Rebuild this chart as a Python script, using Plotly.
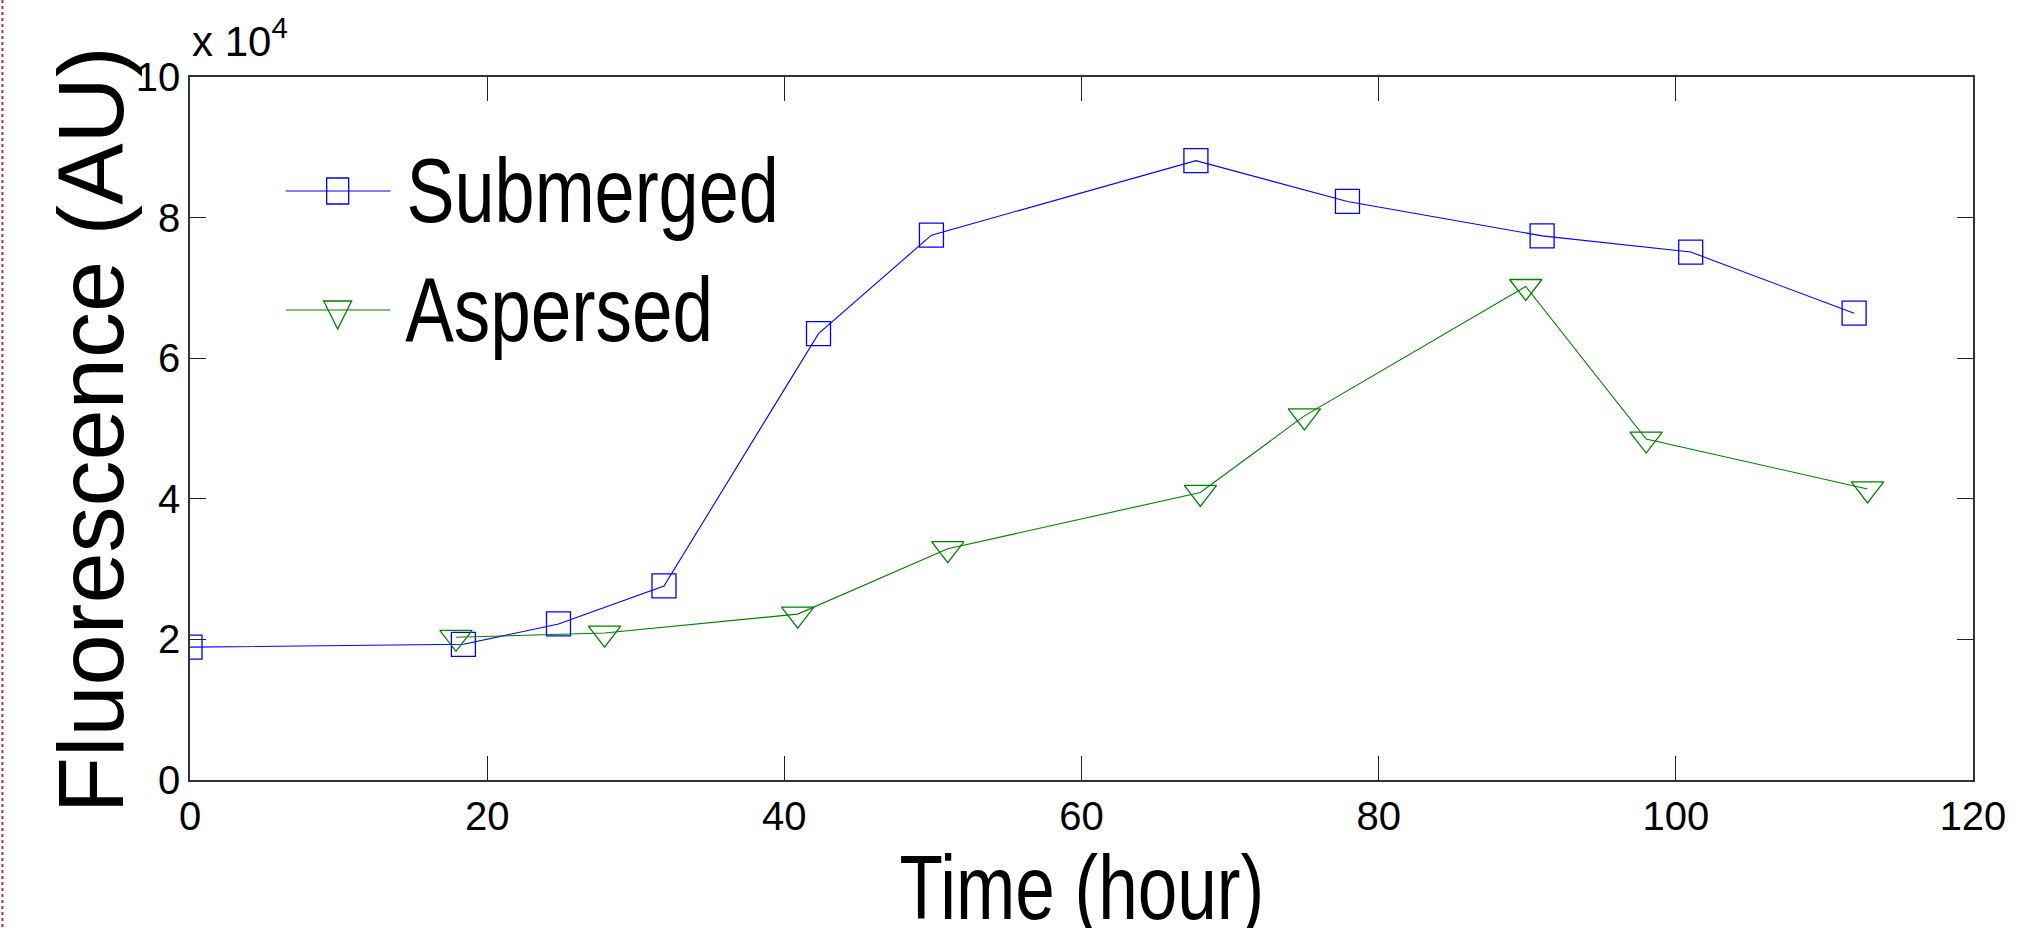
import plotly.graph_objects as go

# ---- data ----
hours_submerged = [0, 18.4, 24.8, 31.9, 42.3, 49.9, 67.7, 77.9, 91.0, 101.0, 112.0]
fluor_submerged = [18900, 19300, 22200, 27600, 63500, 77500, 88100, 82300, 77400, 75100, 66400]

hours_aspersed = [17.9, 27.9, 40.9, 51.0, 68.0, 75.0, 89.9, 98.0, 112.9]
fluor_aspersed = [20300, 20900, 23600, 32900, 40900, 51800, 70200, 48500, 41400]

x_ticks = [0, 20, 40, 60, 80, 100, 120]
y_ticks = [0, 20000, 40000, 60000, 80000, 100000]
y_tick_text = ["0", "2", "4", "6", "8", "10"]

series_names = ["Submerged", "Aspersed"]
x_title = "Time (hour)"
y_title = "Fluorescence (AU)"
exponent_label = "x 10<sup>4</sup>"

# ---- layout geometry (pixels) ----
W, H = 2018, 928
L, R, T, B = 190, 2018 - 1977, 77, 928 - 780
PW, PH = W - L - R, H - T - B

def px_x(px):
    return (px - L) / PW

def px_y(py):
    return (H - B - py) / PH

BLUE = "#0000ff"
GREEN = "#008000"
SANS = "Liberation Sans, Arial, Helvetica, sans-serif"

fig = go.Figure()
fig.add_trace(go.Scatter(
    x=hours_submerged, y=fluor_submerged, mode="lines+markers", name=series_names[0],
    line=dict(color=BLUE, width=1.1),
    marker=dict(symbol="square-open", size=24, color=BLUE, line=dict(width=1.3, color=BLUE)),
    showlegend=False,
))
fig.add_trace(go.Scatter(
    x=hours_aspersed, y=fluor_aspersed, mode="lines+markers", name=series_names[1],
    line=dict(color=GREEN, width=1.1),
    marker=dict(symbol="triangle-down-open", size=28, color=GREEN, line=dict(width=1.3, color=GREEN)),
    showlegend=False,
))

axis_common = dict(
    showline=True, linecolor="#333333", linewidth=1.5, mirror="ticks",
    ticks="inside", tickcolor="#222222", tickwidth=1,
    showgrid=False, zeroline=False,
    tickfont=dict(family=SANS, size=40, color="black"),
)

fig.update_xaxes(range=[0, 120], tickvals=x_ticks, ticklen=24, **axis_common)
fig.update_yaxes(range=[0, 100000], tickvals=y_ticks, ticktext=y_tick_text, ticklen=16, **axis_common)

shapes = []
annotations = []

# manual legend (line sample, marker, label centred on its text extent)
legend_rows = [
    (series_names[0], BLUE, 191, "M-11,-13 L11,-13 L11,13 L-11,13 Z", 593),
    (series_names[1], GREEN, 310, "M-14,9 L14,9 L0,-19 Z", 560),
]
for name, color, py, marker_path, text_cx in legend_rows:
    shapes.append(dict(type="line", xref="paper", yref="paper",
                       x0=px_x(286), x1=px_x(391), y0=px_y(py), y1=px_y(py),
                       line=dict(color=color, width=1.2)))
    shapes.append(dict(type="path", xref="paper", yref="paper",
                       xsizemode="pixel", ysizemode="pixel",
                       xanchor=px_x(338), yanchor=px_y(py),
                       path=marker_path, line=dict(color=color, width=1.3),
                       fillcolor="rgba(0,0,0,0)"))
    annotations.append(dict(text=name, xref="paper", yref="paper",
                            x=px_x(text_cx), y=px_y(py), xanchor="center", yanchor="middle",
                            showarrow=False,
                            font=dict(family=SANS, size=90, color="black")))

# axis titles
annotations.append(dict(text=x_title, xref="paper", yref="paper",
                        x=px_x(1084), y=px_y(888), xanchor="center", yanchor="middle",
                        showarrow=False, font=dict(family=SANS, size=90, color="black")))
annotations.append(dict(text=y_title, xref="paper", yref="paper", textangle=-90,
                        x=px_x(91), y=px_y(430), xanchor="center", yanchor="middle",
                        showarrow=False, font=dict(family=SANS, size=92, color="black")))
# exponent label
annotations.append(dict(text=exponent_label, xref="paper", yref="paper",
                        x=px_x(190), y=px_y(38), xanchor="left", yanchor="middle",
                        showarrow=False, font=dict(family=SANS, size=42, color="black")))

# dashed slide border at the left edge
shapes.append(dict(type="line", xref="paper", yref="paper",
                   x0=px_x(2), x1=px_x(2), y0=px_y(0), y1=px_y(H),
                   line=dict(color="#a3306e", width=2, dash="dot")))

fig.update_layout(
    width=W, height=H,
    margin=dict(l=L, r=R, t=T, b=B, pad=0),
    paper_bgcolor="white", plot_bgcolor="white",
    shapes=shapes, annotations=annotations,
    showlegend=False,
)

# the reference uses a condensed face: squeeze the big labels horizontally about their centres
post = """
var gd = document.getElementById('{plot_id}');
var sq = {'Submerged': 0.80, 'Aspersed': 0.81, 'Time (hour)': 0.79};
gd.querySelectorAll('text.annotation-text').forEach(function (t) {
  var s = sq[t.textContent];
  if (!s) return;
  var bb = t.getBBox();
  var cx = bb.x + bb.width / 2;
  var tr = t.getAttribute('transform') || '';
  t.setAttribute('transform', tr + ' translate(' + cx + ',0) scale(' + s + ',1) translate(' + (-cx) + ',0)');
});
document.body.style.margin = '0';
"""

fig.write_html("out.html", config={"displayModeBar": False}, post_script=post)
